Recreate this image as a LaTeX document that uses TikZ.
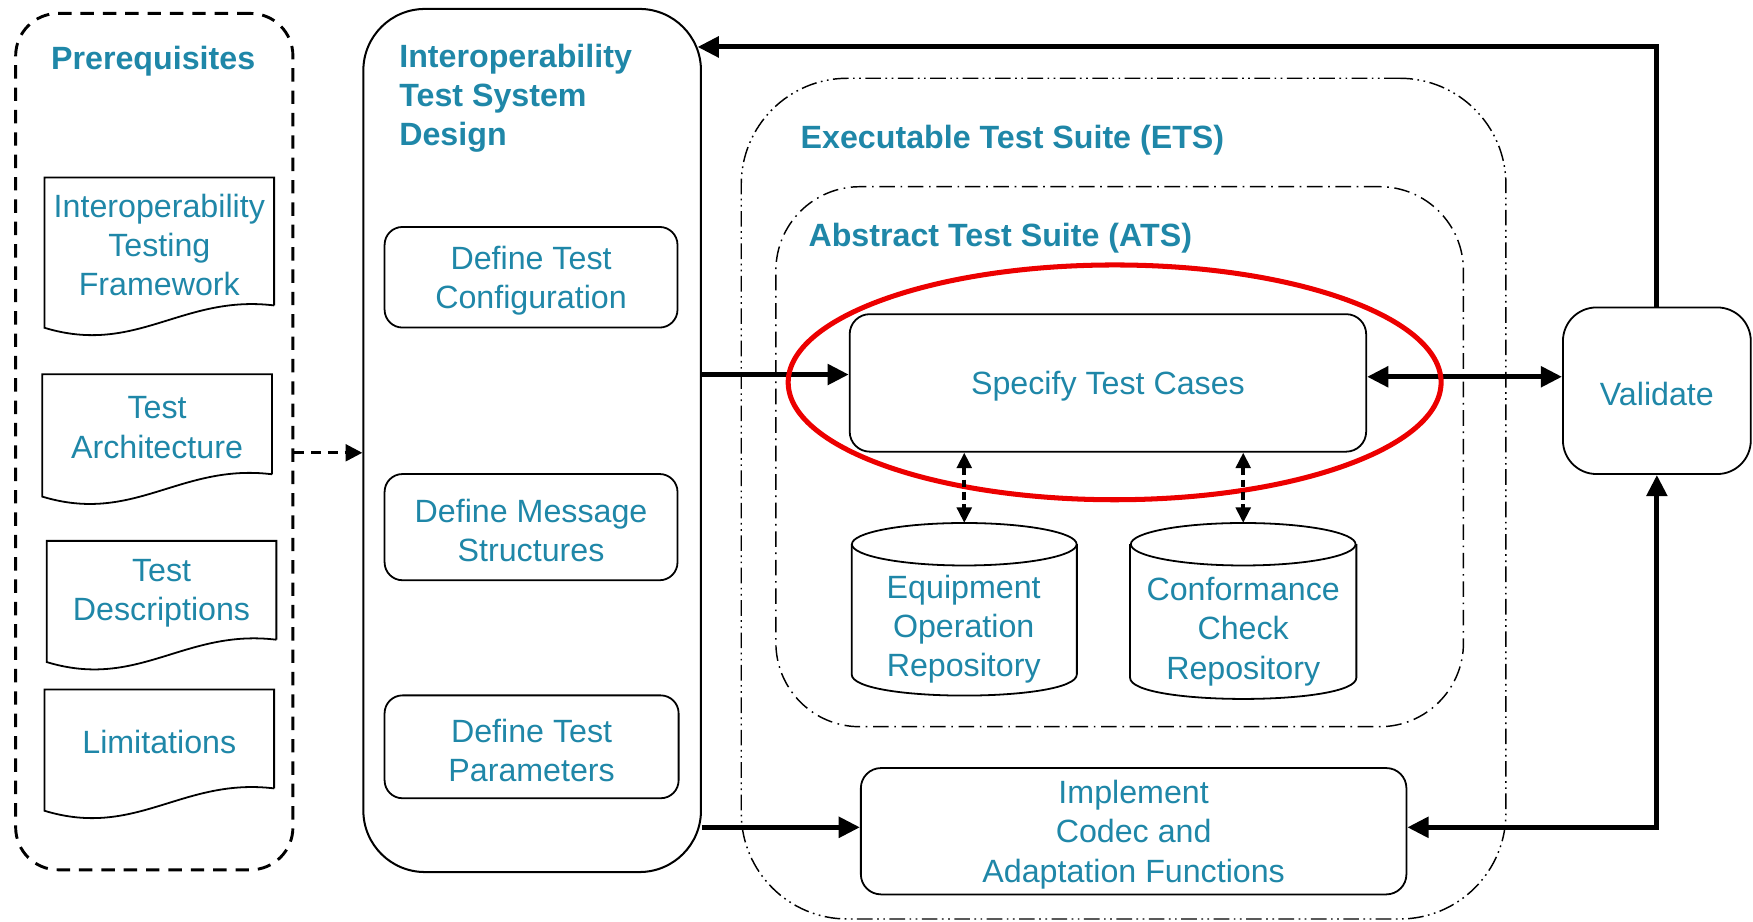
\documentclass[tikz,border=0pt]{standalone}
\usepackage{fontspec}
\setmainfont{Liberation Sans}
\usetikzlibrary{arrows.meta,calc,shapes.geometric}
\definecolor{ttl}{RGB}{31,135,168}
\definecolor{hlred}{RGB}{236,0,0}

\begin{document}
\begin{tikzpicture}[x=1pt,y=-1pt,
  every node/.style={font=\fontsize{28.8}{35}\selectfont, text=ttl, align=center, inner sep=0pt},
  caption/.style={label={[yshift=-3pt]center:#1}},
  heading/.style={font=\fontsize{28.8}{35}\selectfont\bfseries, align=left, anchor=west},
  stepbox/.style={draw, line width=1.6pt, rounded corners=16pt, fill=white},
  outline/.style={line width=1.6pt},
  frame/.style={draw, line width=1.3pt, rounded corners=#1},
  flow/.style={line width=4.5pt, -{Triangle[length=19pt,width=18pt]}},
  bothflow/.style={line width=4.5pt, {Triangle[length=19pt,width=18pt]}-{Triangle[length=19pt,width=18pt]}},
  dashflow/.style={line width=2.6pt, dash pattern=on 9pt off 6pt, -{Triangle[length=15pt,width=15pt]}},
  repolink/.style={line width=3.6pt, dash pattern=on 7pt off 4pt,
    {Triangle[length=14pt,width=13pt]}-{Triangle[length=14pt,width=13pt]}},
]
\useasboundingbox (0,0) rectangle (1568,824);

% suite frames
\node[frame=95pt, dash pattern=on 14pt off 4pt on 1.5pt off 4pt on 1.5pt off 4pt,
      minimum width=684pt, minimum height=752pt] (ets) at (1005,446) {};
\node[frame=75pt, dash pattern=on 14pt off 5pt on 1.5pt off 5pt,
      minimum width=615pt, minimum height=483pt] (ats) at (1001.5,408.5) {};
\node[heading] (etstitle) at (716,125) {Executable Test Suite (ETS)};
\node[heading] (atstitle) at (723,213) {Abstract Test Suite (ATS)};

% prerequisites column
\node[draw, line width=2.6pt, dash pattern=on 12pt off 8pt, rounded corners=38pt,
      minimum width=248pt, minimum height=766pt] (prereq) at (138,395) {};
\node[font=\fontsize{28.8}{35}\selectfont\bfseries] (prereqtitle) at (137,55) {Prerequisites};

\node[minimum width=205pt, minimum height=114pt, caption={Interoperability\\Testing\\Framework}] (itf) at (142.5,216) {};
\node[minimum width=205pt, minimum height=89pt, caption={Test\\Architecture}] (ta) at (140.5,379.5) {};
\node[minimum width=205pt, minimum height=88pt, caption={Test\\Descriptions}] (td) at (144.5,528) {};
\node[minimum width=205pt, minimum height=88pt, caption={Limitations}] (lim) at (142.5,661) {};
\foreach \d in {itf,ta,td,lim}
  \draw[outline] (\d.south east) -- (\d.north east) -- (\d.north west) -- ($(\d.south west)+(0,20)$)
    .. controls ($(\d.south west)!0.4!(\d.south east)+(0,45)$) and ($(\d.south west)!0.6!(\d.south east)+(0,-10)$)
    .. (\d.south east);

% test system design column
\node[draw, line width=1.8pt, rounded corners=55pt, minimum width=302pt, minimum height=772pt] (design) at (476,394) {};
\node[heading] (designtitle) at (357,88) {Interoperability\\Test System\\Design};
\node[stepbox, minimum width=262pt, minimum height=90pt, caption={Define Test\\Configuration}] (cfg) at (475,248) {};
\node[stepbox, minimum width=262pt, minimum height=95pt, caption={Define Message\\Structures}] (msg) at (475,471.5) {};
\node[stepbox, minimum width=263pt, minimum height=92pt, caption={Define Test\\Parameters}] (par) at (475.5,668) {};

% test cases, repositories and adaptation
\node[stepbox, rounded corners=18pt, minimum width=462pt, minimum height=123pt, caption={Specify Test Cases}] (spec) at (991,342.5) {};
\node[minimum width=201pt, minimum height=154pt] (eor) at (862.5,545) {};
\node[minimum width=202pt, minimum height=157pt] (ccr) at (1112,546.5) {};
\foreach \c in {eor,ccr} {
  \draw[outline, fill=white] ($(\c.north west)+(0,19)$) -- ($(\c.south west)+(0,-19)$)
    .. controls ($(\c.south west)+(0,6.3)$) and ($(\c.south east)+(0,6.3)$) .. ($(\c.south east)+(0,-19)$)
    -- ($(\c.north east)+(0,19)$);
  \draw[outline, fill=white] ($(\c.north)+(0,19)$) ellipse [x radius=100.5pt, y radius=19pt];
}
\node (eortext) at (862,563) {Equipment\\Operation\\Repository};
\node (ccrtext) at (1112,565) {Conformance\\Check\\Repository};
\node[stepbox, rounded corners=18pt, minimum width=488pt, minimum height=113pt, caption={Implement\\Codec and\\Adaptation Functions}] (impl) at (1014,743.5) {};
\node[stepbox, rounded corners=30pt, minimum width=168pt, minimum height=149pt, caption={Validate}] (val) at (1482,349.5) {};

% connector levels
\coordinate (rtop) at (0,42);
\coordinate (rspec) at (0,335);
\coordinate (rval) at (0,337);
\coordinate (rpre) at (0,405);
\coordinate (rimpl) at (0,740);

\draw[dashflow] (prereq.east |- rpre) -- (design.west |- rpre);
\draw[flow] (design.east |- rspec) -- (spec.west |- rspec);
\draw[bothflow] (spec.east |- rval) -- (val.west |- rval);
\draw[flow] (val.north) |- ([xshift=-4pt]design.east |- rtop);
\draw[flow] (design.east |- rimpl) -- (impl.west |- rimpl);
\draw[bothflow] (impl.east |- rimpl) -| (val.south);

% highlight around the test case specification
\node[draw=hlred, line width=4.5pt, ellipse, minimum width=584pt, minimum height=210pt, inner sep=0pt] (focus) at (997,342) {};

\draw[repolink] (eor.north |- spec.south) -- (eor.north);
\draw[repolink] (ccr.north |- spec.south) -- (ccr.north);
\end{tikzpicture}
\end{document}
